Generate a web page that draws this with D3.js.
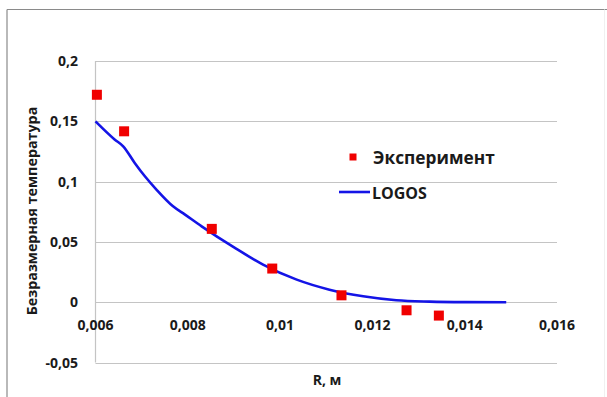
<!DOCTYPE html>
<html>
<head>
<meta charset="utf-8">
<script src="https://cdn.jsdelivr.net/npm/d3@7"></script>
<style>
  html, body { margin: 0; padding: 0; background: #fff; }
  svg { display: block; }
  text { font-family: "Open Sans", "DejaVu Sans", sans-serif; font-weight: 700; fill: #1a1a1a; }
</style>
</head>
<body>
<svg id="chart" width="607" height="397"></svg>
<script>
// Experiment points
const expX = [0.00603, 0.00662, 0.00852, 0.00983, 0.01133, 0.01274, 0.01344];
const expY = [0.172, 0.1417, 0.0608, 0.0279, 0.0057, -0.0067, -0.0111];
// LOGOS calculation
const logosX = [0.006, 0.00642, 0.0066, 0.00685, 0.00707, 0.00732, 0.00768, 0.00794, 0.0083, 0.00902, 0.00963, 0.01036, 0.01107, 0.0118, 0.01252, 0.01324, 0.0140, 0.0149];
const logosY = [0.150, 0.1348, 0.1293, 0.1155, 0.1044, 0.0934, 0.0795, 0.0726, 0.0629, 0.045, 0.0312, 0.0187, 0.0104, 0.0049, 0.0016, 0.0005, 0.0001, 0.0];
const xTicks = [0.006, 0.008, 0.01, 0.012, 0.014, 0.016];
const yTicks = [-0.05, 0, 0.05, 0.1, 0.15, 0.2];
const seriesNames = ["Эксперимент", "LOGOS"];
const xTitle = "R, м";
const yTitle = "Безразмерная температура";

const svg = d3.select("#chart");
const x = d3.scaleLinear().domain([0.006, 0.016]).range([95.5, 557]);
const y = d3.scaleLinear().domain([-0.05, 0.2]).range([362.5, 61]);
const fmt = v => String(v).replace(".", ",");

// frame (top & left)
svg.append("line").attr("x1", 7).attr("x2", 607).attr("y1", 9.5).attr("y2", 9.5).attr("stroke", "#8a8a8a").attr("stroke-width", 1.2);
svg.append("line").attr("x1", 7).attr("x2", 7).attr("y1", 9.5).attr("y2", 397).attr("stroke", "#8a8a8a").attr("stroke-width", 1.2);
svg.append("line").attr("x1", 604.5).attr("x2", 604.5).attr("y1", 9.5).attr("y2", 397).attr("stroke", "#f0f0f0").attr("stroke-width", 1);

// gridlines
svg.append("g").selectAll("line").data(yTicks).join("line")
  .attr("x1", x(0.006)).attr("x2", x(0.016))
  .attr("y1", d => Math.round(y(d)) + 0.5).attr("y2", d => Math.round(y(d)) + 0.5)
  .attr("stroke", "#c4c4c4").attr("stroke-width", 1.2);
// vertical axis line
svg.append("line").attr("x1", x(0.006)).attr("x2", x(0.006))
  .attr("y1", y(0.2)).attr("y2", y(-0.05)).attr("stroke", "#c4c4c4").attr("stroke-width", 1.2);

// y tick labels
svg.append("g").selectAll("text").data(yTicks).join("text")
  .attr("x", 78).attr("y", d => y(d) + 5)
  .attr("text-anchor", "end").attr("font-size", 14)
  .text(d => fmt(d));

// x tick labels (below zero line)
svg.append("g").selectAll("text").data(xTicks).join("text")
  .attr("x", d => x(d)).attr("y", 330)
  .attr("text-anchor", "middle").attr("font-size", 14)
  .text(d => fmt(d));

// axis titles
svg.append("text").attr("x", 327).attr("y", 385).attr("text-anchor", "middle").attr("font-size", 14).text(xTitle);
svg.append("text").attr("transform", "translate(37,211) rotate(-90)").attr("text-anchor", "middle").attr("font-size", 14.3).text(yTitle);

// LOGOS line
const pts = logosX.map((v, i) => [v, logosY[i]]);
svg.append("path").datum(pts)
  .attr("d", d3.line().x(d => x(d[0])).y(d => y(d[1])).curve(d3.curveMonotoneX))
  .attr("fill", "none").attr("stroke", "#1414e6").attr("stroke-width", 2.6);

// experiment markers
const ms = 10;
svg.append("g").selectAll("rect").data(expX.map((v, i) => [v, expY[i]])).join("rect")
  .attr("x", d => x(d[0]) - ms / 2).attr("y", d => y(d[1]) - ms / 2)
  .attr("width", ms).attr("height", ms).attr("fill", "#f00000");

// legend
svg.append("rect").attr("x", 349.5).attr("y", 153.5).attr("width", 7).attr("height", 7).attr("fill", "#f00000");
svg.append("text").attr("x", 373).attr("y", 164).attr("font-size", 17.3).text(seriesNames[0]);
svg.append("line").attr("x1", 339).attr("x2", 370).attr("y1", 192).attr("y2", 192).attr("stroke", "#1414e6").attr("stroke-width", 2.6);
svg.append("text").attr("x", 372).attr("y", 198.5).attr("font-size", 16).text(seriesNames[1]);
</script>
</body>
</html>
